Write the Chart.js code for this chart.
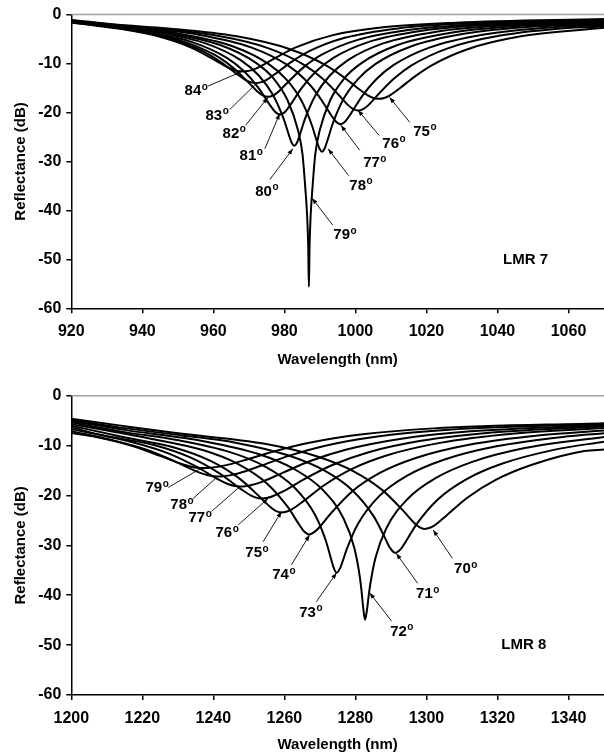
<!DOCTYPE html>
<html>
<head>
<meta charset="utf-8">
<script src="https://cdn.jsdelivr.net/npm/chart.js@4.4.0/dist/chart.umd.min.js"></script>
<style>
  html, body { margin: 0; padding: 0; background: #fff; }
  .panel { position: absolute; left: 0; width: 604px; }
  #top { top: 0; height: 377px; }
  #bottom { top: 377px; height: 378px; }
</style>
</head>
<body>
<div class="panel" id="top"><canvas id="lmr7"></canvas></div>
<div class="panel" id="bottom"><canvas id="lmr8"></canvas></div>
<script>
// ---- LMR 7 (upper panel), one curve per incidence angle ----
const lmr7Angles = [84, 83, 82, 81, 80, 79, 78, 77, 76, 75];
const lmr7Wavelength = [
  [920, 935, 943.4, 953.4, 958.4, 962.4, 965.4, 966.9, 968.4, 969.9, 971.4, 974.4, 978.4, 983.4, 993.4, 1008.4, 1028.4, 1070],
  [920, 935, 947, 957, 962, 966, 969, 970.5, 972, 973.5, 975, 978, 982, 987, 997, 1012, 1032, 1070],
  [920, 935, 950.4, 960.4, 965.4, 969.4, 972.4, 973.9, 975.4, 976.9, 978.4, 981.4, 985.4, 990.4, 1000.4, 1015.4, 1035.4, 1070],
  [920, 935, 938.8, 953.8, 963.8, 968.8, 972.8, 975.8, 977.3, 978.8, 980.3, 981.8, 984.8, 988.8, 993.8, 1003.8, 1018.8, 1038.8, 1070],
  [920, 935, 942.8, 957.8, 967.8, 972.8, 976.8, 979.8, 981.3, 982.1, 982.8, 983.5, 984.3, 985.8, 988.8, 992.8, 997.8, 1007.8, 1022.8, 1042.8, 1070],
  [920, 935, 946.9, 961.9, 971.9, 976.9, 980.9, 983.9, 985.1, 985.9, 986.4, 986.7, 986.9, 987.1, 987.4, 987.9, 988.7, 989.9, 992.9, 996.9, 1001.9, 1011.9, 1026.9, 1046.9, 1070],
  [920, 935, 950.6, 965.6, 975.6, 980.6, 984.6, 987.6, 989.1, 989.9, 990.6, 991.3, 992.1, 993.6, 996.6, 1000.6, 1005.6, 1015.6, 1030.6, 1050.6, 1070],
  [920, 935, 955.8, 970.8, 980.8, 985.8, 989.8, 992.8, 994.3, 995.8, 997.3, 998.8, 1001.8, 1005.8, 1010.8, 1020.8, 1035.8, 1055.8, 1070],
  [920, 935, 940.8, 960.8, 975.8, 985.8, 990.8, 994.8, 997.8, 999.3, 1000.8, 1002.3, 1003.8, 1006.8, 1010.8, 1015.8, 1025.8, 1040.8, 1060.8, 1070],
  [920, 935, 946.6, 966.6, 981.6, 991.6, 996.6, 1000.6, 1003.6, 1005.1, 1006.6, 1008.1, 1009.6, 1012.6, 1016.6, 1021.6, 1031.6, 1046.6, 1070]
];
const lmr7Reflectance = [
  [-1.6, -3.05, -4.24, -6.63, -8.46, -10.12, -11.18, -11.5, -11.6, -11.5, -11.18, -10.12, -8.46, -6.63, -4.24, -2.54, -1.64, -0.9],
  [-1.55, -2.95, -4.74, -7.48, -9.66, -11.8, -13.32, -13.8, -14.0, -13.8, -13.32, -11.8, -9.66, -7.48, -4.74, -2.82, -1.79, -1.1],
  [-1.5, -2.85, -5.21, -8.25, -10.78, -13.5, -15.69, -16.48, -16.8, -16.48, -15.69, -13.5, -10.78, -8.25, -5.21, -3.09, -1.94, -1.3],
  [-1.45, -2.75, -3.3, -5.57, -8.84, -11.69, -15.06, -18.33, -19.78, -20.4, -19.78, -18.33, -15.06, -11.69, -8.84, -5.57, -3.3, -2.06, -1.45],
  [-1.4, -2.65, -3.49, -5.88, -9.34, -12.44, -16.44, -21.32, -24.67, -26.23, -26.8, -26.23, -24.67, -21.32, -16.44, -12.44, -9.34, -5.88, -3.49, -2.17, -1.6],
  [-1.35, -2.55, -3.72, -6.22, -9.8, -13.0, -17.5, -23.8, -28.5, -35.5, -41, -47, -55.6, -47, -41, -35.5, -28.5, -23.8, -17.5, -13.0, -9.8, -6.22, -3.72, -2.3, -1.8],
  [-1.3, -2.45, -3.92, -6.51, -10.11, -13.27, -17.3, -22.3, -25.75, -27.41, -28.0, -27.41, -25.75, -22.3, -17.3, -13.27, -10.11, -6.51, -3.92, -2.43, -2.0],
  [-1.25, -2.4, -4.11, -6.74, -10.28, -13.25, -16.74, -20.13, -21.68, -22.4, -21.68, -20.13, -16.74, -13.25, -10.28, -6.74, -4.11, -2.56, -2.2],
  [-1.2, -2.3, -2.68, -4.29, -6.94, -10.38, -13.11, -16.02, -18.39, -19.26, -19.6, -19.26, -18.39, -16.02, -13.11, -10.38, -6.94, -4.29, -2.68, -2.45],
  [-1.1, -2.2, -2.79, -4.44, -7.07, -10.31, -12.71, -14.98, -16.54, -17.03, -17.2, -17.03, -16.54, -14.98, -12.71, -10.31, -7.07, -4.44, -2.7]
];
// label centre, arrow start, arrow end (wavelength, dB), arrow head shown?
const lmr7LabelAt = [[955.1, -15.4], [961.0, -20.4], [965.8, -24.1], [970.6, -28.7], [975.0, -35.9], [997.0, -44.8], [1001.5, -34.7], [1005.4, -30.1], [1010.8, -26.1], [1019.5, -23.6]];
const lmr7ArrowFrom = [[958.5, -14.6], [964.6, -19.4], [969.1, -22.6], [974.5, -27.4], [975.9, -33.7], [993.6, -43.0], [998.1, -32.9], [1001.2, -27.7], [1006.7, -24.7], [1015.3, -22.0]];
const lmr7ArrowTo = [[968.3, -11.55], [972.2, -14.0], [975.4, -16.9], [978.7, -20.2], [982.4, -27.4], [987.8, -37.5], [992.3, -27.4], [995.9, -22.6], [1000.7, -19.5], [1009.6, -16.9]];
const lmr7Heads = [false, false, true, true, true, true, true, true, true, true];

// ---- LMR 8 (lower panel) ----
const lmr8Angles = [79, 78, 77, 76, 75, 74, 73, 72, 71, 70];
const lmr8Wavelength = [
  [1200, 1207, 1217, 1225, 1231, 1234, 1235.5, 1237, 1238.5, 1240, 1243, 1249, 1257, 1267, 1282, 1302, 1350],
  [1200, 1211.2, 1221.2, 1229.2, 1235.2, 1238.2, 1239.7, 1241.2, 1242.7, 1244.2, 1247.2, 1253.2, 1261.2, 1271.2, 1286.2, 1306.2, 1350],
  [1200, 1217.5, 1227.5, 1235.5, 1241.5, 1244.5, 1246, 1247.5, 1249, 1250.5, 1253.5, 1259.5, 1267.5, 1277.5, 1292.5, 1312.5, 1350],
  [1200, 1208.5, 1223.5, 1233.5, 1241.5, 1247.5, 1250.5, 1252, 1253.5, 1255, 1256.5, 1259.5, 1265.5, 1273.5, 1283.5, 1298.5, 1318.5, 1350],
  [1200, 1214.2, 1229.2, 1239.2, 1247.2, 1253.2, 1256.2, 1257.7, 1259.2, 1260.7, 1262.2, 1265.2, 1271.2, 1279.2, 1289.2, 1304.2, 1324.2, 1350],
  [1200, 1222, 1237, 1247, 1255, 1261, 1264, 1265.5, 1267, 1268.5, 1270, 1273, 1279, 1287, 1297, 1312, 1332, 1350],
  [1200, 1215, 1229.7, 1244.7, 1254.7, 1262.7, 1268.7, 1271.7, 1273.2, 1273.7, 1274.7, 1275.7, 1276.2, 1277.7, 1280.7, 1286.7, 1294.7, 1304.7, 1319.7, 1339.7, 1350],
  [1200, 1215, 1237.7, 1252.7, 1262.7, 1270.7, 1276.7, 1279.7, 1281.2, 1281.7, 1282.2, 1282.7, 1283.2, 1283.7, 1284.2, 1285.7, 1288.7, 1294.7, 1302.7, 1312.7, 1327.7, 1350],
  [1200, 1215, 1231.2, 1246.2, 1261.2, 1271.2, 1279.2, 1285.2, 1288.2, 1289.7, 1291.2, 1292.7, 1294.2, 1297.2, 1303.2, 1311.2, 1321.2, 1336.2, 1350],
  [1200, 1215, 1229.5, 1254.5, 1269.5, 1279.5, 1287.5, 1293.5, 1296.5, 1298, 1299.5, 1301, 1302.5, 1305.5, 1311.5, 1319.5, 1329.5, 1344.5, 1350]
];
const lmr8Reflectance = [
  [-7.5, -8.28, -10.03, -12.06, -13.7, -14.28, -14.44, -14.5, -14.47, -14.37, -14.02, -12.9, -11.2, -9.45, -7.75, -6.55, -5.5],
  [-7.1, -8.84, -10.82, -13.17, -15.17, -15.91, -16.12, -16.2, -16.15, -16.02, -15.54, -14.1, -12.07, -10.07, -8.18, -6.82, -5.66],
  [-6.7, -9.39, -11.61, -14.33, -16.81, -17.81, -18.11, -18.2, -18.15, -17.97, -17.32, -15.46, -13.05, -10.79, -8.66, -7.14, -5.91],
  [-6.3, -7.89, -9.93, -12.37, -15.47, -18.58, -20.0, -20.44, -20.6, -20.51, -20.22, -19.24, -16.76, -13.89, -11.37, -9.05, -7.39, -6.19],
  [-6.0, -8.23, -10.42, -13.06, -16.52, -20.37, -22.41, -23.13, -23.4, -23.21, -22.72, -21.24, -17.96, -14.63, -11.89, -9.41, -7.63, -6.49],
  [-5.7, -8.56, -10.9, -13.71, -17.53, -22.35, -25.67, -27.16, -27.8, -27.3, -26.27, -23.66, -19.24, -15.44, -12.48, -9.84, -7.93, -6.98],
  [-5.4, -7.3, -8.87, -11.32, -14.25, -18.31, -23.95, -29.12, -32.86, -34.12, -35.5, -34.57, -33.63, -30.52, -25.71, -20.13, -15.99, -12.89, -10.15, -8.15, -7.52],
  [-5.1, -6.85, -9.16, -11.69, -14.68, -18.81, -24.67, -30.54, -36.1, -38.96, -42.51, -44.9, -43.2, -40.33, -37.75, -32.4, -26.6, -20.71, -16.49, -13.32, -10.5, -8.26],
  [-4.85, -6.5, -7.96, -9.42, -11.99, -14.98, -19.0, -24.24, -28.31, -30.45, -31.5, -30.81, -29.23, -25.78, -20.8, -16.77, -13.65, -10.81, -9.21],
  [-4.6, -6.1, -7.49, -9.65, -12.24, -15.16, -18.88, -23.09, -25.47, -26.35, -26.7, -26.48, -25.89, -24.1, -20.45, -16.87, -13.89, -11.08, -10.8]
];
const lmr8LabelAt = [[1224.1, -18.3], [1231.1, -21.7], [1236.2, -24.3], [1243.8, -27.3], [1252.2, -31.3], [1259.8, -35.7], [1267.4, -43.3], [1293.0, -47.0], [1300.3, -39.5], [1311.0, -34.5]];
const lmr8ArrowFrom = [[1227.3, -18.4], [1234.3, -20.6], [1239.5, -23.2], [1247.0, -25.9], [1254.0, -29.3], [1262.0, -33.9], [1269.0, -41.3], [1290.2, -45.2], [1297.5, -37.6], [1307.3, -32.6]];
const lmr8ArrowTo = [[1237.1, -14.3], [1240.9, -16.4], [1247.5, -18.2], [1255.4, -20.6], [1259.2, -23.2], [1267.1, -27.9], [1274.7, -35.5], [1284.0, -39.5], [1291.5, -31.6], [1301.9, -26.9]];
const lmr8Heads = [false, false, false, true, true, true, true, true, true, true];

const FONT = '"Liberation Sans", Arial, sans-serif';
Chart.defaults.font.family = FONT;
Chart.defaults.color = '#000';

function curves(wls, dbs) {
  return wls.map((wl, i) => ({
    data: wl.map((x, j) => ({ x: x, y: dbs[i][j] })),
    borderColor: '#000',
    borderWidth: 2,
    pointRadius: 0,
    fill: false,
    cubicInterpolationMode: 'monotone'
  }));
}

// arrows, angle labels, panel name and the grey frame line
const annotate = {
  id: 'annotate',
  afterDatasetsDraw(chart, args, o) {
    const { ctx, chartArea, scales: { x, y } } = chart;
    ctx.save();
    ctx.strokeStyle = '#a0a0a0';
    ctx.lineWidth = 1.5;
    ctx.beginPath();
    ctx.moveTo(chartArea.left, chartArea.top);
    ctx.lineTo(chartArea.right, chartArea.top);
    ctx.stroke();

    o.angles.forEach((a, i) => {
      const x0 = x.getPixelForValue(o.from[i][0]), y0 = y.getPixelForValue(o.from[i][1]);
      const x1 = x.getPixelForValue(o.to[i][0]), y1 = y.getPixelForValue(o.to[i][1]);
      ctx.strokeStyle = '#000';
      ctx.fillStyle = '#000';
      ctx.lineWidth = 0.9;
      ctx.beginPath();
      ctx.moveTo(x0, y0);
      ctx.lineTo(x1, y1);
      ctx.stroke();
      if (o.heads[i]) {
        const ang = Math.atan2(y1 - y0, x1 - x0);
        ctx.beginPath();
        ctx.moveTo(x1, y1);
        ctx.lineTo(x1 - 6 * Math.cos(ang) + 2.2 * Math.sin(ang), y1 - 6 * Math.sin(ang) - 2.2 * Math.cos(ang));
        ctx.lineTo(x1 - 6 * Math.cos(ang) - 2.2 * Math.sin(ang), y1 - 6 * Math.sin(ang) + 2.2 * Math.cos(ang));
        ctx.closePath();
        ctx.fill();
      }
      const cx = x.getPixelForValue(o.at[i][0]), cy = y.getPixelForValue(o.at[i][1]);
      ctx.font = 'bold 15px ' + FONT;
      const num = String(a);
      const w1 = ctx.measureText(num).width;
      ctx.font = 'bold 10px ' + FONT;
      const w2 = ctx.measureText('o').width;
      const left = cx - (w1 + w2) / 2;
      ctx.textAlign = 'left';
      ctx.textBaseline = 'alphabetic';
      ctx.font = 'bold 15px ' + FONT;
      ctx.fillText(num, left, cy + 5.4);
      ctx.font = 'bold 10px ' + FONT;
      ctx.fillText('o', left + w1 + 0.5, cy - 0.2);
    });

    ctx.font = 'bold 15px ' + FONT;
    ctx.textAlign = 'center';
    ctx.textBaseline = 'middle';
    ctx.fillText(o.name, x.getPixelForValue(o.nameAt[0]), y.getPixelForValue(o.nameAt[1]));
    ctx.restore();
  }
};

function axisX(min, max, xHeight, titlePad) {
  return {
    type: 'linear', min: min, max: max,
    ticks: { stepSize: 20, includeBounds: false, autoSkip: false, maxRotation: 0, padding: 9,
             font: { size: 16, weight: 'bold' }, color: '#000', callback: v => String(v) },
    grid: { drawOnChartArea: false, drawTicks: true, tickLength: 5, color: '#000', lineWidth: 1.5 },
    border: { color: '#000', width: 1.5 },
    title: { display: true, text: 'Wavelength (nm)', color: '#000',
             font: { size: 15, weight: 'bold' }, padding: { top: 0, bottom: titlePad } },
    afterFit: s => { s.height = xHeight; }
  };
}

function axisY() {
  return {
    min: -60, max: 0,
    ticks: { stepSize: 10, padding: 5, font: { size: 16, weight: 'bold' }, color: '#000', callback: v => String(v) },
    grid: { drawOnChartArea: false, drawTicks: true, tickLength: 5, color: '#000', lineWidth: 1.5 },
    border: { color: '#000', width: 1.5 },
    title: { display: true, text: 'Reflectance (dB)', color: '#000',
             font: { size: 15, weight: 'bold' }, padding: { top: 12, bottom: 0 } },
    afterFit: s => { s.width = 71.3; }
  };
}

function makePanel(id, angles, wls, dbs, xMin, xMax, padTop, xHeight, titlePad, notes) {
  return new Chart(document.getElementById(id), {
    type: 'line',
    data: { datasets: curves(wls, dbs) },
    options: {
      responsive: true,
      maintainAspectRatio: false,
      animation: false,
      devicePixelRatio: 1,
      layout: { padding: { top: padTop, right: 0, bottom: 0, left: 0 } },
      plugins: {
        legend: { display: false },
        tooltip: { enabled: false },
        annotate: notes
      },
      scales: { x: axisX(xMin, xMax, xHeight, titlePad), y: axisY() }
    },
    plugins: [annotate]
  });
}

makePanel('lmr7', lmr7Angles, lmr7Wavelength, lmr7Reflectance, 920, 1070, 10.7, 68.7, 8, {
  angles: lmr7Angles, at: lmr7LabelAt, from: lmr7ArrowFrom, to: lmr7ArrowTo, heads: lmr7Heads,
  name: 'LMR 7', nameAt: [1047.9, -50.1]
});
makePanel('lmr8', lmr8Angles, lmr8Wavelength, lmr8Reflectance, 1200, 1350, 18.7, 60, 1, {
  angles: lmr8Angles, at: lmr8LabelAt, from: lmr8ArrowFrom, to: lmr8ArrowTo, heads: lmr8Heads,
  name: 'LMR 8', nameAt: [1327.4, -50.0]
});
</script>
</body>
</html>
